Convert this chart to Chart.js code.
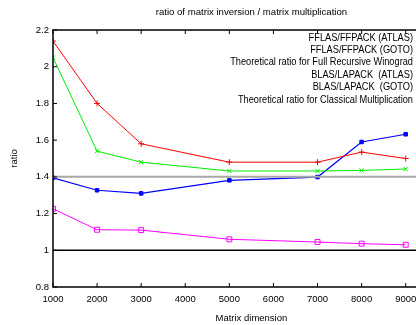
<!DOCTYPE html>
<html>
<head>
<meta charset="utf-8">
<script src="https://cdn.jsdelivr.net/npm/chart.js@4/dist/chart.umd.min.js"></script>
<style>
html,body{margin:0;padding:0;overflow:hidden;background:#fff;width:416px;height:325px;}
#wrap{position:absolute;left:0;top:0;width:470px;height:325px;}
</style>
</head>
<body>
<div id="wrap"><canvas id="c" width="470" height="325"></canvas></div>
<script>
const dims = [1000, 2000, 3000, 5000, 7000, 8000, 9000];
const fflasAtlas = [2.14, 1.80, 1.58, 1.48, 1.48, 1.535, 1.50];
const fflasGoto  = [2.05, 1.54, 1.48, 1.432, 1.432, 1.435, 1.443];
const blasAtlas  = [1.395, 1.327, 1.31, 1.381, 1.399, 1.59, 1.632];
const blasGoto   = [1.226, 1.112, 1.11, 1.06, 1.045, 1.036, 1.03];
const theoryX = [1000, 10000];
const theoryWinograd = [1.4, 1.4];
const theoryClassical = [1.0, 1.0];
const yTicks = [0.8, 1, 1.2, 1.4, 1.6, 1.8, 2, 2.2];
const xTicks = [1000, 2000, 3000, 4000, 5000, 6000, 7000, 8000, 9000, 10000];
const labels = ['FFLAS/FFPACK (ATLAS)', 'FFLAS/FFPACK (GOTO)', 'Theoretical ratio for Full Recursive Winograd',
  'BLAS/LAPACK  (ATLAS)', 'BLAS/LAPACK  (GOTO)', 'Theoretical ratio for Classical Multiplication'];

const FONT = "'Liberation Sans', Arial, sans-serif";
const pts = (xs, ys) => xs.map((x, i) => ({x: x, y: ys[i]}));

const datasets = [
  {label: labels[0], data: pts(dims, fflasAtlas), borderColor: '#ff0000', pointStyle: 'cross', pointRadius: 3, borderWidth: 1},
  {label: labels[1], data: pts(dims, fflasGoto), borderColor: '#00ee00', pointStyle: 'crossRot', pointRadius: 3, borderWidth: 1},
  {label: labels[2], data: pts(theoryX, theoryWinograd), borderColor: '#a8a8a8', pointRadius: 0, borderWidth: 2},
  {label: labels[3], data: pts(dims, blasAtlas), borderColor: '#0000ff', backgroundColor: '#0000ff', pointStyle: 'rect', pointRadius: 2.5, borderWidth: 1.2},
  {label: labels[4], data: pts(dims, blasGoto), borderColor: '#ff00ff', backgroundColor: 'rgba(0,0,0,0)', pointStyle: 'rect', pointRadius: 3.5, borderWidth: 1},
  {label: labels[5], data: pts(theoryX, theoryClassical), borderColor: '#000000', pointRadius: 0, borderWidth: 1.5}
];
datasets.forEach(d => { d.fill = false; d.tension = 0; d.pointBorderColor = d.borderColor; d.pointBorderWidth = 1; if (!d.backgroundColor) d.backgroundColor = d.borderColor; });

const frame = {
  id: 'frame',
  afterDraw(chart) {
    const ctx = chart.ctx, a = chart.chartArea;
    const xs = chart.scales.x, ys = chart.scales.y;
    ctx.save();
    ctx.strokeStyle = '#000';
    ctx.lineWidth = 1.5;
    ctx.strokeRect(a.left, a.top, a.right - a.left, a.bottom - a.top);
    ctx.lineWidth = 1;
    const L = 4;
    ctx.beginPath();
    xs.ticks.forEach((t, i) => {
      const px = xs.getPixelForTick(i);
      ctx.moveTo(px, a.bottom); ctx.lineTo(px, a.bottom - L);
      ctx.moveTo(px, a.top); ctx.lineTo(px, a.top + L);
    });
    ys.ticks.forEach((t, i) => {
      const py = ys.getPixelForTick(i);
      ctx.moveTo(a.left, py); ctx.lineTo(a.left + L, py);
      ctx.moveTo(a.right, py); ctx.lineTo(a.right - L, py);
    });
    ctx.stroke();
    // key
    ctx.font = '11px ' + FONT;
    ctx.textAlign = 'right';
    ctx.textBaseline = 'middle';
    ctx.fillStyle = '#000';
    const xr = 413, y0 = 37.5, dy = 12.4;
    chart.data.datasets.forEach((d, i) => {
      const y = y0 + i * dy;
      ctx.save();
      ctx.translate(xr, y);
      ctx.scale(0.84, 1);
      ctx.fillText(d.label, 0, 0);
      ctx.restore();
      ctx.strokeStyle = d.borderColor;
      ctx.lineWidth = d.borderWidth;
      ctx.beginPath(); ctx.moveTo(xr + 6, y); ctx.lineTo(xr + 36, y); ctx.stroke();
    });
    ctx.restore();
  }
};

new Chart(document.getElementById('c'), {
  type: 'line',
  data: {datasets: datasets},
  plugins: [frame],
  options: {
    responsive: false,
    animation: false,
    layout: {padding: {top: 0, right: 12, bottom: 0, left: 0}},
    plugins: {
      legend: {display: false},
      tooltip: {enabled: false},
      title: {display: true, fullSize: false, text: 'ratio of matrix inversion / matrix multiplication',
        color: '#000', font: {family: FONT, size: 9.6, weight: 'normal', lineHeight: 1.2}, padding: {top: 7, bottom: 11.5}}
    },
    scales: {
      x: {
        type: 'linear', min: 1000, max: 10000,
        afterFit(s) { s.height = 38; },
        afterBuildTicks(s) { s.ticks = xTicks.map(v => ({value: v})); },
        grid: {display: false, drawTicks: false},
        border: {display: false},
        ticks: {color: '#000', padding: 7, maxRotation: 0, autoSkip: false, font: {family: FONT, size: 9.5}, callback: v => String(v)},
        title: {display: true, text: 'Matrix dimension', color: '#000', font: {family: FONT, size: 9.5}, padding: {top: 0, bottom: 1}}
      },
      y: {
        min: 0.8, max: 2.2,
        afterFit(s) { s.width = 53; },
        afterBuildTicks(s) { s.ticks = yTicks.map(v => ({value: v})); },
        grid: {display: false, drawTicks: false},
        border: {display: false},
        ticks: {color: '#000', padding: 4, autoSkip: false, font: {family: FONT, size: 9.5}, callback: v => String(v)},
        title: {display: true, text: 'ratio', color: '#000', font: {family: FONT, size: 9.5}, padding: {top: 9, bottom: 0}}
      }
    }
  }
});
</script>
</body>
</html>
